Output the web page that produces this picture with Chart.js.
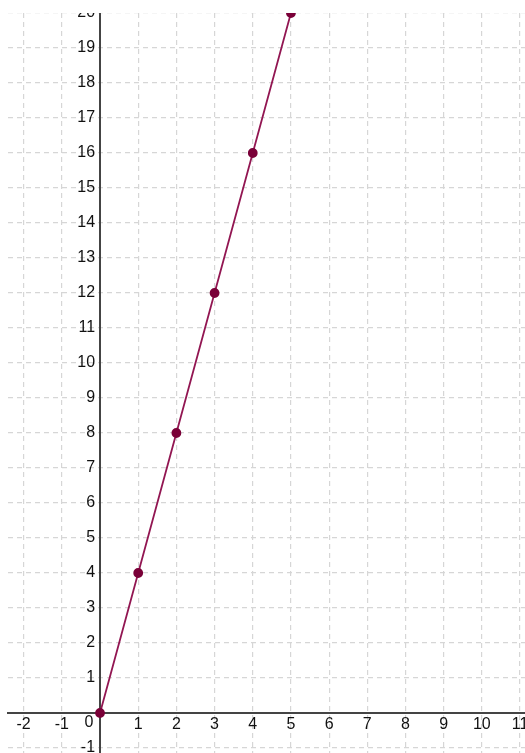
<!DOCTYPE html>
<html><head><meta charset="utf-8">
<script src="https://cdn.jsdelivr.net/npm/chart.js@4.4.0/dist/chart.umd.min.js"></script>
<style>html,body{margin:0;padding:0;background:#fff;overflow:hidden}</style>
</head><body>
<canvas id="c" width="525" height="753"></canvas>
<script>
// data
const xValues = [0, 1, 2, 3, 4, 5];
const yValues = [0, 4, 8, 12, 16, 20];
const xAxisRange = [-2.41, 11.13];
const yAxisRange = [-1.143, 20];
const tickStep = 1;

const points = xValues.map((x, i) => ({ x: x, y: yValues[i] }));

const FONT = { family: '"Liberation Sans", Arial, sans-serif', size: 16 };
const TEXT = '#111111';
const GRID = '#d6d6d6';
const AXIS = '#444444';

const noPad = (scale) => {
  scale.paddingLeft = 0; scale.paddingRight = 0;
  scale.paddingTop = 0; scale.paddingBottom = 0;
};

const clipTop = {
  id: 'clipTop',
  beforeDraw(chart) {
    const ctx = chart.ctx;
    ctx.save();
    ctx.beginPath();
    ctx.rect(0, chart.chartArea.top, chart.width, chart.height - chart.chartArea.top);
    ctx.clip();
  },
  afterDraw(chart) {
    const ctx = chart.ctx;
    ctx.restore();
    // origin label "0" sits left of the y axis, below the x axis
    const xs = chart.scales.x, ys = chart.scales.y;
    ctx.save();
    ctx.font = FONT.size + 'px ' + FONT.family;
    ctx.fillStyle = TEXT;
    ctx.textAlign = 'center';
    ctx.textBaseline = 'middle';
    ctx.fillText('0', xs.getPixelForValue(0) - 11, ys.getPixelForValue(0) + 10);
    ctx.restore();
  }
};

new Chart(document.getElementById('c'), {
  type: 'scatter',
  data: {
    datasets: [{
      data: points,
      showLine: true,
      borderColor: '#921652',
      borderWidth: 1.8,
      backgroundColor: '#7a0038',
      pointBackgroundColor: '#7a0038',
      pointBorderColor: '#7a0038',
      pointRadius: 4,
      pointHoverRadius: 4,
      tension: 0
    }]
  },
  options: {
    responsive: false,
    animation: false,
    events: [],
    layout: { autoPadding: false, padding: { top: 13, left: 8, right: 0, bottom: 0 } },
    plugins: { legend: { display: false }, tooltip: { enabled: false } },
    scales: {
      x: {
        type: 'linear',
        position: { y: 0 },
        min: xAxisRange[0],
        max: xAxisRange[1],
        afterFit: noPad,
        grid: { color: GRID, lineWidth: 1.2, drawTicks: false },
        border: { display: true, color: AXIS, width: 2, dash: [5, 4] },
        ticks: {
          stepSize: tickStep,
          includeBounds: false,
          autoSkip: false,
          maxRotation: 0,
          padding: 2,
          color: TEXT,
          font: FONT,
          callback: v => (v === 0 ? '' : String(v))
        }
      },
      y: {
        type: 'linear',
        position: { x: 0 },
        min: yAxisRange[0],
        max: yAxisRange[1],
        afterFit: noPad,
        grid: { color: GRID, lineWidth: 1.2, drawTicks: false },
        border: { display: true, color: AXIS, width: 2, dash: [5, 4] },
        ticks: { display: false, stepSize: tickStep, includeBounds: false }
      },
      yLabels: {
        type: 'linear',
        axis: 'y',
        position: { x: -0.13 },
        min: yAxisRange[0],
        max: yAxisRange[1],
        afterFit: noPad,
        grid: { display: false, drawTicks: false },
        border: { display: false },
        ticks: {
          stepSize: tickStep,
          includeBounds: false,
          autoSkip: false,
          color: TEXT,
          font: FONT,
          callback: v => (v === 0 ? '' : String(v))
        }
      }
    }
  },
  plugins: [clipTop]
});
</script>
</body></html>
